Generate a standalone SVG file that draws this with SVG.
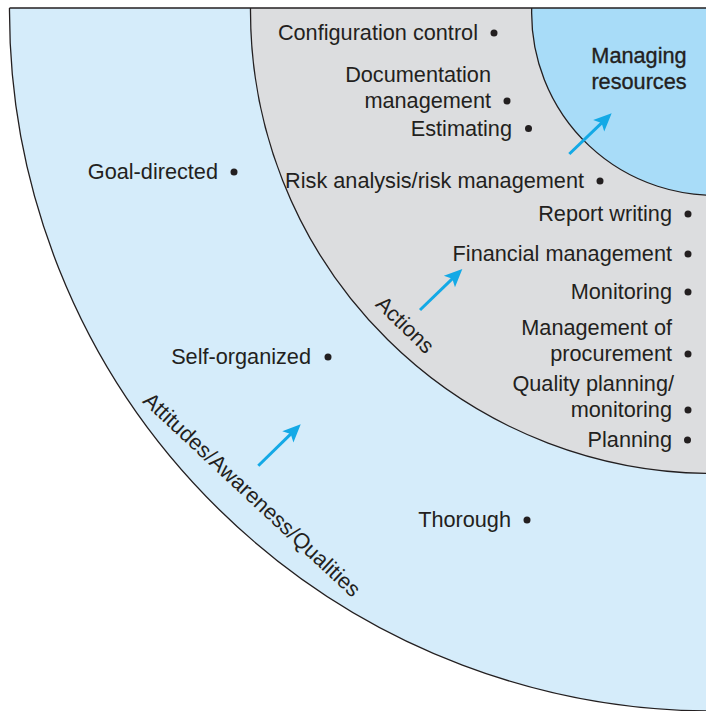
<svg xmlns="http://www.w3.org/2000/svg" width="706" height="711" viewBox="0 0 706 711">
<style>
text{font-family:"Liberation Sans",Arial,Helvetica,sans-serif;font-size:21.7px;fill:#231f20}
.r{text-anchor:end}
.m{text-anchor:middle}
.b{stroke:#231f20;stroke-width:0.35}
.dot{fill:#231f20}
.edge{fill:none;stroke:#231f20;stroke-width:1.3}
.arrow{stroke:#13a9e6;stroke-width:3;fill:none;marker-end:url(#ah)}
</style>
<defs>
<marker id="ah" markerUnits="userSpaceOnUse" markerWidth="24" markerHeight="20" viewBox="0 -10 20 20" refX="10" refY="0" orient="auto">
<path d="M0,-8 L18,0 L0,8 L4,0 Z" fill="#13a9e6"/>
</marker>
</defs>
<rect width="706" height="711" fill="#ffffff"/>
<g id="zone-attitudes">
<path d="M9.5,8 A703.5,700 0 0 0 725.3,710.9 L730,8 Z" fill="#d5ecfa"/>
</g>
<g id="zone-actions">
<path d="M250.5,8 A462.5,462.5 0 0 0 721.1,473.4 L730,8 Z" fill="#dcdddf"/>
</g>
<g id="zone-resources">
<path d="M531.7,8 A182.4,182.4 0 0 0 729.9,194.5 L730,8 Z" fill="#a8dcf8"/>
</g>
<g id="edges">
<path class="edge" d="M9.5,8 A703.5,700 0 0 0 725.3,710.9"/>
<path class="edge" d="M250.5,8 A462.5,462.5 0 0 0 721.1,473.4"/>
<path class="edge" d="M531.7,8 A182.4,182.4 0 0 0 729.9,194.5"/>
<path class="edge" d="M9.5,8 H706"/>
</g>
<g id="label-attitudes"><text transform="translate(247,500) rotate(43)" class="m">Attitudes/Awareness/Qualities</text></g>
<g id="label-actions"><text transform="translate(400,330) rotate(44)" class="m">Actions</text></g>
<g id="label-resources"><text x="639" y="63" class="m b">Managing</text><text x="639" y="89" class="m b">resources</text></g>
<g id="n-config"><text x="478" y="40" class="r">Configuration control</text><circle class="dot" cx="494" cy="33" r="3.5"/></g>
<g id="n-doc"><text x="491" y="82" class="r">Documentation</text><text x="491" y="108" class="r">management</text><circle class="dot" cx="507" cy="101" r="3.5"/></g>
<g id="n-estimating"><text x="512" y="136" class="r">Estimating</text><circle class="dot" cx="528.5" cy="128.5" r="3.5"/></g>
<g id="n-risk"><text x="584" y="188" class="r">Risk analysis/risk management</text><circle class="dot" cx="600" cy="181" r="3.5"/></g>
<g id="n-report"><text x="672" y="221" class="r">Report writing</text><circle class="dot" cx="688" cy="214" r="3.5"/></g>
<g id="n-financial"><text x="672" y="261" class="r">Financial management</text><circle class="dot" cx="688" cy="254" r="3.5"/></g>
<g id="n-monitoring"><text x="672" y="299" class="r">Monitoring</text><circle class="dot" cx="688" cy="292" r="3.5"/></g>
<g id="n-procurement"><text x="672" y="335" class="r">Management of</text><text x="672" y="361" class="r">procurement</text><circle class="dot" cx="688" cy="354" r="3.5"/></g>
<g id="n-quality"><text x="674" y="391" class="r">Quality planning/</text><text x="672" y="417" class="r">monitoring</text><circle class="dot" cx="688" cy="410" r="3.5"/></g>
<g id="n-planning"><text x="672" y="447" class="r">Planning</text><circle class="dot" cx="687.5" cy="440" r="3.5"/></g>
<g id="n-goal"><text x="218" y="179" class="r">Goal-directed</text><circle class="dot" cx="234" cy="172" r="3.5"/></g>
<g id="n-self"><text x="311" y="364" class="r">Self-organized</text><circle class="dot" cx="328" cy="357" r="3.5"/></g>
<g id="n-thorough"><text x="511" y="527" class="r">Thorough</text><circle class="dot" cx="527" cy="520" r="3.5"/></g>
<g id="connectors">
<line class="arrow" x1="569.3" y1="154" x2="605.9" y2="118.8"/>
<line class="arrow" x1="420" y1="310" x2="456.6" y2="274.6"/>
<line class="arrow" x1="258.3" y1="465.7" x2="295" y2="429.9"/>
</g>
</svg>
